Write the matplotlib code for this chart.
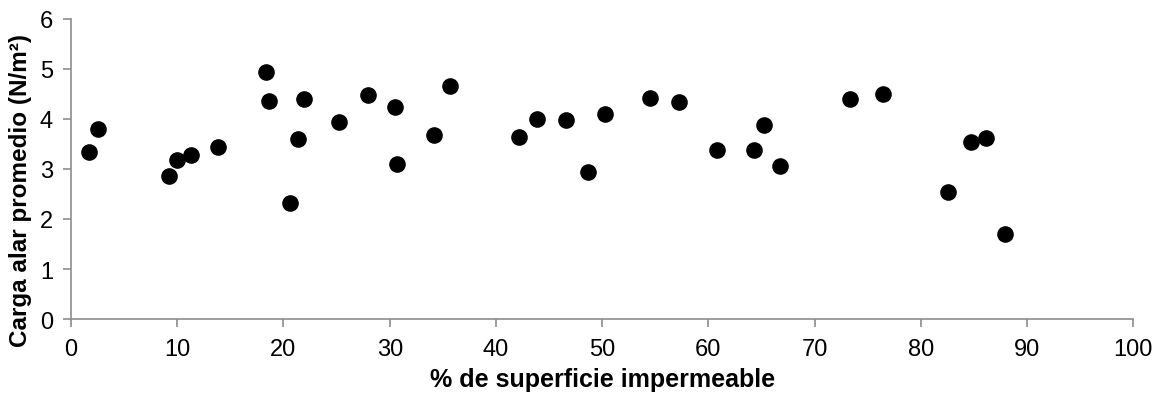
import matplotlib.pyplot as plt

# Data
impermeable = [1.7, 2.5, 9.2, 10.0, 11.3, 13.8, 18.4, 18.6, 20.6, 21.4, 21.9, 25.2,
               28.0, 30.5, 30.7, 34.2, 35.7, 42.2, 43.9, 46.6, 48.7, 50.3, 54.5, 57.2,
               60.8, 64.3, 65.2, 66.7, 73.3, 76.4, 82.6, 84.7, 86.1, 87.9]
carga = [3.33, 3.80, 2.85, 3.17, 3.27, 3.43, 4.94, 4.35, 2.31, 3.60, 4.39, 3.94,
         4.47, 4.23, 3.10, 3.68, 4.65, 3.63, 3.99, 3.97, 2.93, 4.09, 4.41, 4.33,
         3.37, 3.37, 3.88, 3.05, 4.39, 4.50, 2.54, 3.53, 3.61, 1.70]

plt.rcParams['font.family'] = ['Liberation Sans', 'DejaVu Sans']

fig = plt.figure(figsize=(11.59, 4.06), dpi=100)
ax = fig.add_axes([0.0613, 0.2118, 0.9165, 0.739])

ax.scatter(impermeable, carga, s=120, color='black', zorder=3)

ax.set_xlim(0, 100)
ax.set_ylim(0, 6)
ax.set_xticks(range(0, 101, 10))
ax.set_yticks(range(0, 7))

for side in ['top', 'right']:
    ax.spines[side].set_visible(False)
for side in ['left', 'bottom']:
    ax.spines[side].set_color('#8c8c8c')
    ax.spines[side].set_linewidth(1.2)
ax.tick_params(direction='out', length=6, width=1.2, color='#8c8c8c',
               labelsize=17)
ax.tick_params(axis='y', pad=7)
ax.tick_params(axis='x', pad=8)

ax.set_xlabel('% de superficie impermeable', fontsize=18, fontweight='bold', labelpad=5)
ax.set_ylabel('Carga alar promedio (N/m²)', fontsize=17.5, fontweight='bold')
ax.yaxis.set_label_coords(-0.037, 0.43)

fig.savefig('out.png', dpi=100)
